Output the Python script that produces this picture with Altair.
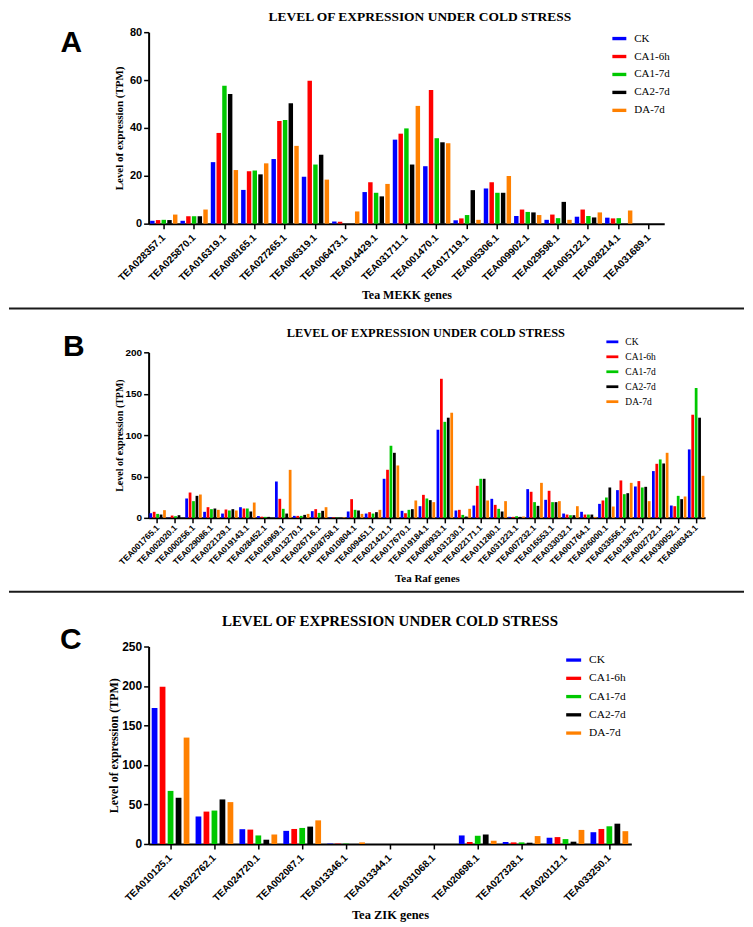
import altair as alt
import pandas as pd

conds = ["CK", "CA1-6h", "CA1-7d", "CA2-7d", "DA-7d"]
colors = ["#0000FF", "#FF0000", "#00C800", "#000000", "#FF8000"]
panel_title = "LEVEL OF EXPRESSION UNDER COLD STRESS"
y_title = "Level of expression (TPM)"

# ---- Panel A: MEKK ----
mekk_genes = ["TEA028357.1", "TEA025870.1", "TEA016319.1", "TEA008165.1", "TEA027265.1",
              "TEA006319.1", "TEA006473.1", "TEA014429.1", "TEA031711.1", "TEA001470.1",
              "TEA017119.1", "TEA005306.1", "TEA009902.1", "TEA029598.1", "TEA005122.1",
              "TEA028214.1", "TEA031689.1"]
mekk_ck = [1.2, 1.2, 25.7, 14.1, 27.0, 19.6, 0.9, 13.2, 35.1, 24.0, 1.4, 14.7, 3.2, 1.6, 2.9, 2.5, 0]
mekk_ca1_6h = [1.5, 3.1, 37.9, 21.9, 42.9, 59.7, 0.8, 17.3, 37.6, 55.8, 2.2, 17.3, 5.9, 3.8, 5.9, 2.2, 0]
mekk_ca1_7d = [1.6, 3.1, 57.6, 22.2, 43.3, 24.7, 0, 12.9, 39.8, 35.7, 3.6, 12.9, 4.9, 2.3, 3.2, 2.3, 0]
mekk_ca2_7d = [1.5, 3.1, 54.2, 20.6, 50.3, 28.8, 0, 11.4, 24.7, 34.0, 14.0, 12.9, 4.7, 9.1, 2.6, 0, 0]
mekk_da_7d = [3.8, 5.9, 22.4, 25.2, 32.5, 18.4, 5.1, 16.6, 49.2, 33.6, 1.6, 19.9, 3.6, 1.6, 4.7, 5.5, 0]

# ---- Panel B: Raf ----
raf_genes = ["TEA001765.1", "TEA002020.1", "TEA000256.1", "TEA029086.1", "TEA022129.1",
             "TEA019143.1", "TEA028452.1", "TEA016969.1", "TEA013270.1", "TEA026716.1",
             "TEA028758.1", "TEA010804.1", "TEA009451.1", "TEA021421.1", "TEA017670.1",
             "TEA019184.1", "TEA000933.1", "TEA031230.1", "TEA022171.1", "TEA011280.1",
             "TEA031223.1", "TEA007232.1", "TEA016553.1", "TEA033032.1", "TEA001764.1",
             "TEA026000.1", "TEA033556.1", "TEA013875.1", "TEA002722.1", "TEA030052.1",
             "TEA008343.1"]
raf_ck = [5.6, 0.3, 23.4, 7.3, 5.2, 12.9, 2.2, 44, 2.4, 8.1, 0.8, 7.7, 5.2, 47.2, 8.5, 14.1,
          106.5, 8.9, 14.9, 23, 1.2, 34.7, 21.8, 5.2, 7.3, 16.9, 33.5, 37.9, 56.5, 14.9, 82.7]
raf_ca1_6h = [7.3, 2.8, 30.6, 12.9, 10.1, 11.3, 1.4, 23, 2.4, 10.5, 0.8, 22.6, 6.9, 58.1, 5.6, 27.8,
              168, 9.7, 38.7, 15.7, 1.2, 31.5, 32.7, 4.0, 4.0, 21, 45.2, 44.4, 65.3, 14.1, 124.6]
raf_ca1_7d = [4.8, 2.0, 20.2, 10.5, 8.9, 11.3, 1.2, 10.9, 2.4, 6.0, 0.4, 9.7, 5.2, 87.1, 9.7, 23.4,
              116, 3.6, 47.2, 10.9, 2.0, 19, 19, 3.2, 4.0, 24.6, 28.6, 36.7, 70.6, 26.6, 156.9]
raf_ca2_7d = [4.0, 3.2, 26.6, 11.3, 10.5, 7.7, 1.2, 5.2, 3.6, 8.5, 0, 8.9, 6.9, 78.6, 10.5, 21.4,
              121, 1.6, 47.2, 7.7, 1.2, 14.5, 19, 3.2, 4.0, 36.7, 29.8, 37.5, 65.7, 22.6, 121]
raf_da_7d = [9.3, 0, 28.2, 9.7, 8.9, 18.5, 0, 58, 4.8, 12.9, 0.8, 4.8, 9.7, 63.3, 21, 19,
             127, 10.9, 21, 20.2, 1.6, 42.3, 20.2, 14.1, 1.2, 13.7, 42.3, 20.2, 78.6, 25.8, 50.8]

# ---- Panel C: ZIK ----
zik_genes = ["TEA010125.1", "TEA022762.1", "TEA024720.1", "TEA002087.1", "TEA013346.1",
             "TEA013344.1", "TEA031068.1", "TEA020698.1", "TEA027328.1", "TEA020112.1",
             "TEA033250.1"]
zik_ck = [172, 34.8, 18.7, 16.6, 0.5, 0, 0, 10.8, 2.5, 7.9, 14.9]
zik_ca1_6h = [199, 41, 18.2, 19, 0.5, 0, 0, 2.5, 2, 8.7, 19]
zik_ca1_7d = [67.2, 42.3, 10.8, 20.3, 0.5, 0, 0, 10.4, 2, 6.2, 22.4]
zik_ca2_7d = [58.5, 56.4, 5.4, 22, 0, 0, 0, 12, 1.6, 2.9, 25.7]
zik_da_7d = [134.7, 53, 12, 29.9, 2, 0, 0, 4.1, 10, 17.8, 16.2]

SERIF = "Liberation Serif"
SANS = "Liberation Sans"


def one(text):
    return pd.DataFrame({"t": [text]})


def panel(genes, series, width, height, ymax, ystep, pin, poff, letter, letter_xy,
          title_xy, title_size, xtitle, xtitle_y, xtitle_size, ytitle_x, ytitle_size,
          xlabel_size, xlabel_pad, ylabel_size, leg, sep_y=None):
    rows = []
    for c, vals in zip(conds, series):
        for g, v in zip(genes, vals):
            rows.append({"gene": g, "cond": c, "value": v})
    df = pd.DataFrame(rows)
    lx, ly, lsize, lw, lh, lrow, lfont = leg
    bars = alt.Chart(df).mark_bar().encode(
        x=alt.X("gene:N", sort=genes,
                scale=alt.Scale(paddingInner=pin, paddingOuter=pin / 2),
                axis=alt.Axis(title=xtitle, labelAngle=-45, labelFont=SANS, labelFontWeight="bold",
                              labelFontSize=xlabel_size, labelColor="black", labelPadding=xlabel_pad,
                              labelAlign="right", labelBaseline="middle",
                              labelOverlap=False, tickSize=5, tickWidth=1.5, tickColor="black",
                              domainColor="black", domainWidth=2,
                              titleFont=SERIF, titleFontWeight="bold", titleFontSize=xtitle_size,
                              titleColor="black", titleX=width / 2, titleY=xtitle_y,
                              titleBaseline="middle", titleAlign="center")),
        xOffset=alt.XOffset("cond:N", sort=conds, scale=alt.Scale(paddingInner=poff, paddingOuter=0)),
        y=alt.Y("value:Q", scale=alt.Scale(domain=[0, ymax], nice=False),
                axis=alt.Axis(title=y_title, values=list(range(0, ymax + 1, ystep)),
                              labelFont=SANS, labelFontWeight="bold", labelFontSize=ylabel_size,
                              labelColor="black", labelPadding=2, tickSize=5, tickWidth=1.5,
                              tickColor="black", domainColor="black", domainWidth=2, grid=False,
                              titleFont=SERIF, titleFontWeight="bold", titleFontSize=ytitle_size,
                              titleColor="black", titleX=ytitle_x, titleY=height / 2,
                              titleAlign="center", titleBaseline="middle")),
        color=alt.Color("cond:N", sort=conds, scale=alt.Scale(domain=conds, range=colors),
                        legend=alt.Legend(title=None, orient="none", legendX=lx, legendY=ly,
                                          symbolType="M-1,-%sH1V%sH-1Z" % (lh, lh),
                                          symbolSize=lsize, symbolStrokeWidth=0,
                                          labelFont=SERIF, labelFontSize=lfont, labelColor="black",
                                          labelOffset=lw, rowPadding=lrow, padding=0)),
    )
    ttl = alt.Chart(one(panel_title)).mark_text(
        font=SERIF, fontWeight="bold", fontSize=title_size, align="center", baseline="middle",
        color="black").encode(x=alt.value(title_xy[0]), y=alt.value(title_xy[1]), text="t:N")
    let = alt.Chart(one(letter)).mark_text(
        font=SANS, fontWeight="bold", fontSize=30, align="center", baseline="middle",
        color="black").encode(x=alt.value(letter_xy[0]), y=alt.value(letter_xy[1]), text="t:N")
    layers = [bars, ttl, let]
    if sep_y is not None:
        sep = alt.Chart(one("sep")).mark_rule(strokeWidth=2, color="#1a1a1a").encode(
            x=alt.value(-140), x2=alt.value(597), y=alt.value(sep_y))
        layers.append(sep)
    return alt.layer(*layers).properties(width=width, height=height)


A = panel(mekk_genes, [mekk_ck, mekk_ca1_6h, mekk_ca1_7d, mekk_ca2_7d, mekk_da_7d],
          517, 192, 80, 20, 0.1, 0.22, "A", (-77.5, 11), (272, -15.5), 13.5,
          "Tea MEKK genes", 71, 12, -29, 11, 10, 7, 11,
          (465, -0.6, 196, 8, 0.24, 6, 11), sep_y=277)
B = panel(raf_genes, [raf_ck, raf_ca1_6h, raf_ca1_7d, raf_ca2_7d, raf_da_7d],
          558, 166, 200, 50, 0.08, 0.2, "B", (-75, -5), (278, -19), 12.4,
          "Tea Raf genes", 61, 11, -29, 10, 8.5, 3, 10,
          (459, -16.5, 144, 7, 0.23, 4, 9.5), sep_y=240)
C = panel(zik_genes, [zik_ck, zik_ca1_6h, zik_ca1_7d, zik_ca2_7d, zik_da_7d],
          484, 198, 250, 50, 0.14, 0.28, "C", (-78, -7), (242, -26), 15,
          "Tea ZIK genes", 71, 12.5, -35, 12, 10, 7, 12,
          (418.7, 6.1, 225, 8, 0.22, 5.3, 11.4))

chart = alt.vconcat(A, B, C, spacing=129, bounds="flush").resolve_scale(
    color="independent", x="independent", y="independent", xOffset="independent"
).resolve_legend(color="independent").properties(
    padding=0, background="white"
).configure_view(stroke=None).configure_axis(grid=False)

chart.save("out.html", embed_options={"renderer": "svg", "actions": False})
